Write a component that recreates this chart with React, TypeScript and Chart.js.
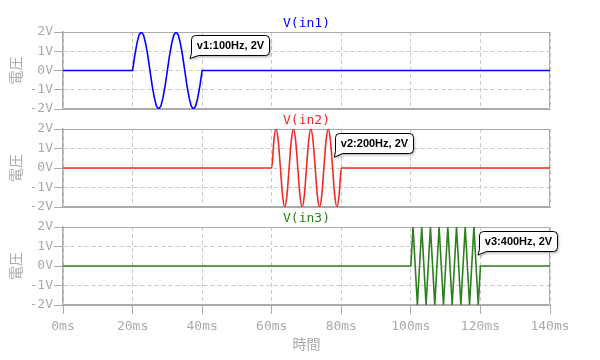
import React, { useEffect, useRef } from 'react';
import { Chart, registerables } from 'chart.js';

Chart.register(...registerables);

// ---- data ----
const timeTicksMs = [0, 20, 40, 60, 80, 100, 120, 140];
const voltTicks = [-2, -1, 0, 1, 2];
const seriesNames = ['V(in1)', 'V(in2)', 'V(in3)'];

// burst windows (ms)
const in1Window = [20, 40];
const in2Window = [60, 80];
const in3Window = [100, 120];

// sampled voltages inside each burst (evenly spaced over the window)
const in1Volts = [
  0, 0.77, 1.41, 1.85, 2, 1.85, 1.41, 0.77, 0, -0.77, -1.41, -1.85, -2, -1.85, -1.41, -0.77,
  0, 0.77, 1.41, 1.85, 2, 1.85, 1.41, 0.77, 0, -0.77, -1.41, -1.85, -2, -1.85, -1.41, -0.77, 0,
];
const in2Volts = [
  0, 1.41, 2, 1.41, 0, -1.41, -2, -1.41,
  0, 1.41, 2, 1.41, 0, -1.41, -2, -1.41,
  0, 1.41, 2, 1.41, 0, -1.41, -2, -1.41,
  0, 1.41, 2, 1.41, 0, -1.41, -2, -1.41, 0,
];
const in3Volts = [
  0, 2, 0, -2, 0, 2, 0, -2, 0, 2, 0, -2, 0, 2, 0, -2,
  0, 2, 0, -2, 0, 2, 0, -2, 0, 2, 0, -2, 0, 2, 0, -2, 0,
];

// callout annotations
const calloutLabels = ['v1:100Hz, 2V', 'v2:200Hz, 2V', 'v3:400Hz, 2V'];
const calloutTimes = [36.5, 78, 119.3];
const calloutVolts = [0.62, 0.55, 0.56];

// ---- styles ----
const seriesColors = ['#0000ff', '#ee2b24', '#2f7f1f'];
const lineWidths = [1.6, 1.6, 1.6];
const interpModes = ['default', 'monotone', 'default'];
const panelTops = [32, 129, 227];
const panelBottoms = [109, 207, 305];
const MONO = "'DejaVu Sans Mono', monospace";
const CJK = "'Noto Sans CJK JP', sans-serif";
const LABEL_COLOR = '#aaaaaa';
const AXIS_COLOR = '#aaaaaa';
const GRID_COLOR = '#c8c8c8';

function burstPoints(win: number[], vals: number[]) {
  const n = vals.length;
  const pts: { x: number; y: number }[] = [{ x: timeTicksMs[0], y: 0 }];
  vals.forEach((v, i) => pts.push({ x: win[0] + ((win[1] - win[0]) * i) / (n - 1), y: v }));
  pts.push({ x: timeTicksMs[timeTicksMs.length - 1], y: 0 });
  return pts;
}

const seriesData = [
  burstPoints(in1Window, in1Volts),
  burstPoints(in2Window, in2Volts),
  burstPoints(in3Window, in3Volts),
];

function makePlugin(i: number) {
  return {
    id: 'panelDecor' + i,
    beforeDatasetsDraw(chart: any) {
      const { ctx, chartArea: a } = chart;
      ctx.save();
      ctx.strokeStyle = AXIS_COLOR;
      ctx.lineWidth = 1;
      ctx.beginPath();
      ctx.moveTo(Math.round(a.left) + 0.5, Math.round(a.top) + 0.5);
      ctx.lineTo(Math.round(a.right) - 0.5, Math.round(a.top) + 0.5);
      ctx.lineTo(Math.round(a.right) - 0.5, Math.round(a.bottom) - 0.5);
      ctx.lineTo(Math.round(a.left) + 0.5, Math.round(a.bottom) - 0.5);
      ctx.stroke();
      ctx.restore();
    },
    afterDatasetsDraw(chart: any) {
      const { ctx, chartArea: a, scales } = chart;
      ctx.save();
      // panel title
      ctx.font = `13px ${MONO}`;
      ctx.fillStyle = seriesColors[i];
      ctx.textAlign = 'center';
      ctx.textBaseline = 'middle';
      ctx.fillText(seriesNames[i], (a.left + a.right) / 2, a.top - 8);

      // callout
      const tipX = scales.x.getPixelForValue(calloutTimes[i]);
      const tipY = scales.y.getPixelForValue(calloutVolts[i]);
      ctx.font = `bold 11px 'Liberation Sans', Arial, sans-serif`;
      const tw = ctx.measureText(calloutLabels[i]).width;
      const L = Math.round(tipX + 1) + 0.5;
      const B = Math.round(tipY - 4) + 0.5;
      const H = 20;
      const T = B - H;
      const R = L + Math.round(tw + 11);
      const r = 4;
      const path = () => {
        ctx.beginPath();
        ctx.moveTo(L + r, T);
        ctx.lineTo(R - r, T);
        ctx.arcTo(R, T, R, T + r, r);
        ctx.lineTo(R, B - r);
        ctx.arcTo(R, B, R - r, B, r);
        ctx.lineTo(L + 7, B);
        ctx.lineTo(tipX, tipY);
        ctx.lineTo(L, B - 2);
        ctx.lineTo(L, T + r);
        ctx.arcTo(L, T, L + r, T, r);
        ctx.closePath();
      };
      ctx.shadowColor = 'rgba(0,0,0,0.35)';
      ctx.shadowBlur = 3;
      ctx.shadowOffsetX = 1;
      ctx.shadowOffsetY = 1.5;
      path();
      ctx.fillStyle = '#ffffff';
      ctx.fill();
      ctx.shadowColor = 'rgba(0,0,0,0)';
      ctx.lineWidth = 1;
      ctx.strokeStyle = '#000000';
      path();
      ctx.stroke();
      ctx.fillStyle = '#000000';
      ctx.textAlign = 'center';
      ctx.textBaseline = 'middle';
      ctx.fillText(calloutLabels[i], (L + R) / 2, (T + B) / 2 + 0.5);
      ctx.restore();
    },
  };
}

function makeConfig(i: number): any {
  const isBottom = i === 2;
  const top = panelTops[i];
  const bottom = panelBottoms[i];
  return {
    type: 'line',
    data: {
      datasets: [
        {
          label: seriesNames[i],
          data: seriesData[i],
          borderColor: seriesColors[i],
          borderWidth: lineWidths[i],
          pointRadius: 0,
          tension: 0,
          cubicInterpolationMode: interpModes[i],
          fill: false,
        },
      ],
    },
    options: {
      animation: false,
      responsive: false,
      maintainAspectRatio: false,
      events: [],
      layout: {
        padding: { left: 0, right: 50, top, bottom: isBottom ? 4 : 360 - bottom },
      },
      plugins: {
        legend: { display: false },
        tooltip: { enabled: false },
        title: { display: false },
      },
      scales: {
        x: {
          type: 'linear',
          min: timeTicksMs[0],
          max: timeTicksMs[timeTicksMs.length - 1],
          afterBuildTicks: (s: any) => {
            s.ticks = timeTicksMs.map((v) => ({ value: v }));
          },
          ticks: {
            display: isBottom,
            autoSkip: false,
            maxRotation: 0,
            padding: 5,
            color: LABEL_COLOR,
            font: { family: MONO, size: 13 },
            callback: (v: any) => `${v}ms`,
          },
          grid: {
            color: GRID_COLOR,
            drawTicks: isBottom,
            tickLength: 9,
            tickColor: AXIS_COLOR,
            tickBorderDash: [],
            lineWidth: 1,
          },
          border: { display: true, color: AXIS_COLOR, dash: [4, 3], width: 1 },
          title: {
            display: isBottom,
            text: '時間',
            color: LABEL_COLOR,
            font: { family: CJK, size: 14 },
            padding: { top: 0, bottom: 4 },
          },
          afterFit: (s: any) => {
            s.height = isBottom ? 360 - 4 - bottom : 0;
          },
        },
        y: {
          type: 'linear',
          min: voltTicks[0],
          max: voltTicks[voltTicks.length - 1],
          afterBuildTicks: (s: any) => {
            s.ticks = voltTicks.map((v) => ({ value: v }));
          },
          ticks: {
            padding: 1,
            color: LABEL_COLOR,
            font: { family: MONO, size: 13 },
            callback: (v: any) => `${v}V`,
          },
          grid: {
            color: GRID_COLOR,
            drawTicks: true,
            tickLength: 9,
            tickColor: AXIS_COLOR,
            tickBorderDash: [],
            lineWidth: 1,
          },
          border: { display: true, color: AXIS_COLOR, dash: [4, 3], width: 1.5 },
          title: {
            display: true,
            text: '電圧',
            color: LABEL_COLOR,
            font: { family: CJK, size: 14 },
            padding: { top: 7, bottom: 0 },
          },
          afterFit: (s: any) => {
            s.width = 63;
          },
        },
      },
    },
    plugins: [makePlugin(i)],
  };
}

export default function App() {
  const r0 = useRef<HTMLCanvasElement>(null);
  const r1 = useRef<HTMLCanvasElement>(null);
  const r2 = useRef<HTMLCanvasElement>(null);
  const refs = [r0, r1, r2];
  useEffect(() => {
    const charts = refs.map((r, i) => new Chart(r.current as HTMLCanvasElement, makeConfig(i)));
    return () => charts.forEach((c) => c.destroy());
  }, []);
  return (
    <div style={{ position: 'absolute', left: 0, top: 0, width: 600, height: 360, background: '#ffffff' }}>
      {refs.map((r, i) => (
        <canvas
          key={i}
          ref={r}
          width={600}
          height={360}
          style={{ position: 'absolute', left: 0, top: 0, width: 600, height: 360 }}
        />
      ))}
    </div>
  );
}
